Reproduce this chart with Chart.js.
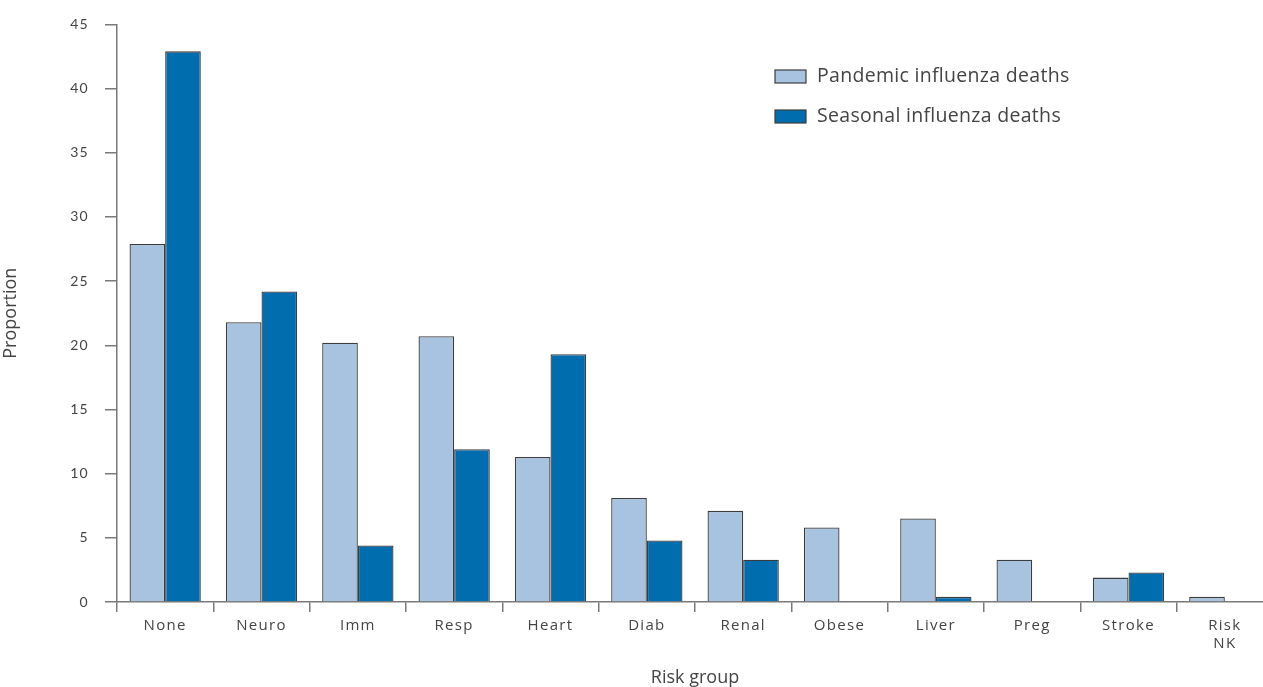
<!DOCTYPE html>
<html>
<head>
<meta charset="utf-8">
<script src="https://cdn.jsdelivr.net/npm/chart.js@4"></script>
<style>
  html, body { margin: 0; padding: 0; background: #fff; overflow: hidden; }
  #wrap { width: 1275px; height: 687px; position: relative; }
</style>
</head>
<body>
<div id="wrap"><canvas id="chart"></canvas></div>
<script>
// Datos (proporción de muertes por grupo de riesgo)
const categories = ['None', 'Neuro', 'Imm', 'Resp', 'Heart', 'Diab', 'Renal', 'Obese', 'Liver', 'Preg', 'Stroke', ['Risk', 'NK']];
const pandemicDeaths = [27.9, 21.8, 20.2, 20.7, 11.3, 8.1, 7.1, 5.8, 6.5, 3.3, 1.9, 0.4];
const seasonalDeaths = [42.9, 24.2, 4.4, 11.9, 19.3, 4.8, 3.3, 0, 0.4, 0, 2.3, 0];
const yTicks = [0, 5, 10, 15, 20, 25, 30, 35, 40, 45];

const textColor = '#444';
const axisColor = '#7a7a7a';

// Espaciado de letras en las etiquetas de los ejes, sin tocar los títulos
const letterSpacing = {
  id: 'letterSpacing',
  afterLayout(chart) {
    Object.values(chart.scales).forEach(scale => {
      if (scale._titlePatched) return;
      const orig = scale.drawTitle.bind(scale);
      scale.drawTitle = (...args) => {
        const prev = scale.ctx.letterSpacing;
        scale.ctx.letterSpacing = '0px';
        orig(...args);
        scale.ctx.letterSpacing = prev;
      };
      scale._titlePatched = true;
    });
  },
  beforeDraw(chart) { chart.ctx.letterSpacing = '1.3px'; },
  afterDatasetsDraw(chart) { chart.ctx.letterSpacing = '0px'; }
};

// Leyenda dibujada dentro del área del gráfico, arriba a la derecha
const insideLegend = {
  id: 'insideLegend',
  afterDraw(chart) {
    const ctx = chart.ctx;
    ctx.save();
    ctx.letterSpacing = '0.3px';
    ctx.font = '19.5px "Open Sans"';
    ctx.textBaseline = 'middle';
    chart.data.datasets.forEach((ds, i) => {
      const y = 76 + i * 40;
      ctx.fillStyle = ds.backgroundColor;
      ctx.strokeStyle = '#3c3c3c';
      ctx.lineWidth = 1.2;
      ctx.fillRect(775, y - 6, 31, 13);
      ctx.strokeRect(775, y - 6, 31, 13);
      ctx.fillStyle = textColor;
      ctx.fillText(ds.label, 817, y);
    });
    ctx.restore();
  }
};

new Chart(document.getElementById('chart'), {
  type: 'bar',
  data: {
    labels: categories,
    datasets: [
      {
        label: 'Pandemic influenza deaths',
        data: pandemicDeaths,
        backgroundColor: '#a7c3e0',
        borderColor: '#3c3c3c',
        borderWidth: 1.3,
        categoryPercentage: 0.74,
        barPercentage: 1
      },
      {
        label: 'Seasonal influenza deaths',
        data: seasonalDeaths,
        backgroundColor: '#006eae',
        borderColor: '#3c3c3c',
        borderWidth: 1.3,
        categoryPercentage: 0.74,
        barPercentage: 1
      }
    ]
  },
  options: {
    responsive: true,
    maintainAspectRatio: false,
    animation: false,
    layout: { padding: { top: 23, right: 2, left: 0, bottom: 0 } },
    plugins: {
      legend: { display: false },
      tooltip: { enabled: false }
    },
    scales: {
      x: {
        afterFit: s => { s.height = 85; },
        grid: { drawOnChartArea: false, tickLength: 10, color: axisColor, lineWidth: 1.5 },
        border: { color: axisColor, width: 1.5 },
        ticks: {
          color: textColor,
          font: { family: 'Open Sans', size: 15 },
          padding: 5,
          maxRotation: 0,
          autoSkip: false
        },
        title: {
          display: true,
          text: 'Risk group',
          color: textColor,
          font: { family: 'Open Sans', size: 18 },
          padding: { top: 0, bottom: -2 }
        }
      },
      y: {
        min: 0,
        max: 45,
        afterFit: s => { s.width = 117; },
        afterBuildTicks: s => { s.ticks = yTicks.map(v => ({ value: v })); },
        grid: { drawOnChartArea: false, tickLength: 12, color: axisColor, lineWidth: 1.5 },
        border: { color: axisColor, width: 1.5 },
        ticks: {
          color: textColor,
          font: { family: 'Lato', size: 14 },
          padding: 16
        },
        title: {
          display: true,
          text: 'Proportion',
          color: textColor,
          font: { family: 'Open Sans', size: 18 },
          padding: { top: 0, bottom: 0 }
        }
      }
    }
  },
  plugins: [letterSpacing, insideLegend]
});
</script>
</body>
</html>
